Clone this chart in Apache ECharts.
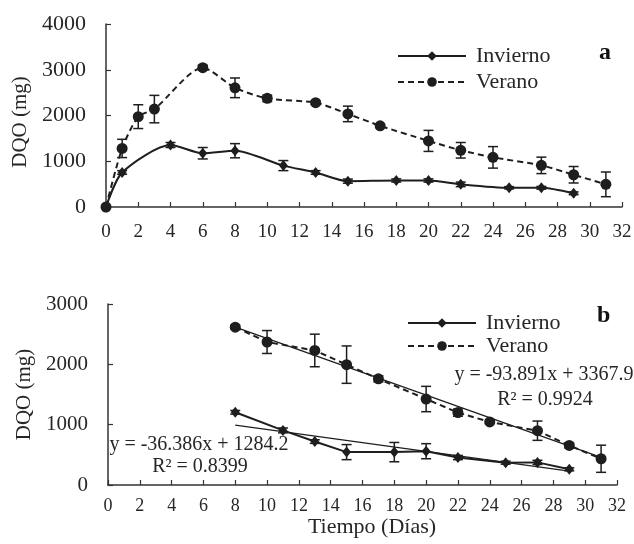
<!DOCTYPE html>
<html><head><meta charset="utf-8">
<script src="https://cdn.jsdelivr.net/npm/echarts@6/dist/echarts.min.js"></script>
<style>html,body{margin:0;padding:0;background:#fff}#c{width:634px;height:544px}</style>
</head><body><div id="c"></div>
<script>
// ---- Data ----
const seriesNames = ['Invierno', 'Verano'];
// Panel a
const invTopX = [0, 1, 4, 6, 8, 11, 13, 15, 18, 20, 22, 25, 27, 29];
const invTopY = [0, 755, 1355, 1175, 1230, 905, 755, 565, 580, 580, 495, 420, 420, 300];
const invTopErr = [0, 40, 55, 125, 155, 110, 40, 45, 35, 35, 50, 25, 30, 30];
const verTopX = [0, 1, 2, 3, 6, 8, 10, 13, 15, 17, 20, 22, 24, 27, 29, 31];
const verTopY = [0, 1280, 1975, 2140, 3045, 2605, 2375, 2280, 2035, 1775, 1445, 1240, 1085, 910, 705, 495];
const verTopErr = [0, 200, 260, 300, 55, 215, 70, 40, 170, 40, 230, 170, 235, 180, 180, 270];
// Panel b
const invBotX = [8, 11, 13, 15, 18, 20, 22, 25, 27, 29];
const invBotY = [1205, 905, 720, 545, 545, 560, 455, 370, 375, 260];
const invBotErr = [30, 40, 30, 125, 160, 125, 35, 25, 35, 25];
const verBotX = [8, 10, 13, 15, 17, 20, 22, 24, 27, 29, 31];
const verBotY = [2615, 2370, 2230, 1995, 1760, 1425, 1200, 1045, 900, 655, 435];
const verBotErr = [30, 190, 270, 310, 50, 210, 60, 25, 160, 40, 225];
// Linear trend lines (endpoints of the fitted lines shown in panel b)
const trendInvX = [8, 29];
const trendInvY = [993, 229];
const trendVerX = [8, 31];
const trendVerY = [2617, 458];
const eqInv = ['y = -36.386x + 1284.2', 'R² = 0.8399'];
const eqVer = ['y = -93.891x + 3367.9', 'R² = 0.9924'];
const panelLabels = ['a', 'b'];
const yTopMax = 4000, yBotMax = 3000, xMax = 32;

// ---- Helpers ----
const zip = (xs, ys) => xs.map((x, i) => [x, ys[i]]);
const zip3 = (xs, ys, es) => xs.map((x, i) => [x, ys[i], es[i]]);
const FONT = 'Liberation Serif';
const INK = '#1e1e1e';
const TXT = '#262626';

function errRender(params, api) {
  const x = api.value(0), y = api.value(1), e = api.value(2);
  if (!e) return null;
  const hi = api.coord([x, y + e]), lo = api.coord([x, y - e]);
  const w = 5;
  const style = { stroke: INK, lineWidth: 1.5, fill: null };
  return {
    type: 'group', children: [
      { type: 'line', shape: { x1: hi[0], y1: hi[1], x2: lo[0], y2: lo[1] }, style },
      { type: 'line', shape: { x1: hi[0] - w, y1: hi[1], x2: hi[0] + w, y2: hi[1] }, style },
      { type: 'line', shape: { x1: lo[0] - w, y1: lo[1], x2: lo[0] + w, y2: lo[1] }, style }
    ]
  };
}

function xAx(gi, fs, margin, name) {
  const o = {
    gridIndex: gi, type: 'value', min: 0, max: xMax, interval: 2,
    axisLine: { show: true, onZero: false, lineStyle: { color: '#333', width: 1.5 } },
    axisTick: { show: true, inside: true, length: 5, lineStyle: { color: '#333', width: 1.2 } },
    axisLabel: { fontFamily: FONT, fontSize: fs, color: TXT, margin: margin, formatter: v => String(v) },
    splitLine: { show: false }
  };
  if (name) {
    o.name = name; o.nameLocation = 'middle'; o.nameGap = 28;
    o.nameTextStyle = { fontFamily: FONT, fontSize: 22, color: TXT, padding: [0, 0, 0, 19] };
  }
  return o;
}
function yAx(gi, max, gap, pad, fs) {
  return {
    gridIndex: gi, type: 'value', min: 0, max: max, interval: 1000,
    name: 'DQO (mg)', nameLocation: 'middle', nameGap: gap,
    nameTextStyle: { fontFamily: FONT, fontSize: 21, color: TXT, padding: pad },
    axisLine: { show: true, lineStyle: { color: '#333', width: 1.5 } },
    axisTick: { show: true, inside: true, length: 5, lineStyle: { color: '#333', width: 1.2 } },
    axisLabel: { fontFamily: FONT, fontSize: fs, color: TXT, margin: 20, formatter: v => String(v) },
    splitLine: { show: false }
  };
}

const invLine = (gi, data, smooth) => ({
  name: seriesNames[0], type: 'line', xAxisIndex: gi, yAxisIndex: gi, data: data,
  smooth: smooth, symbol: 'diamond', symbolSize: [9, 11],
  lineStyle: { color: INK, width: 2, type: 'solid' }, itemStyle: { color: INK }, z: 3
});
const verLine = (gi, data, smooth) => ({
  name: seriesNames[1], type: 'line', xAxisIndex: gi, yAxisIndex: gi, data: data,
  smooth: smooth, symbol: 'circle', symbolSize: 11,
  lineStyle: { color: INK, width: 2, type: [6, 4] }, itemStyle: { color: INK }, z: 3
});
const errSeries = (gi, nm, data) => ({
  name: nm, type: 'custom', xAxisIndex: gi, yAxisIndex: gi, data: data,
  renderItem: errRender, encode: { x: 0, y: 1 }, z: 2, silent: true
});
const trend = (nm, data) => ({
  name: nm, type: 'line', xAxisIndex: 1, yAxisIndex: 1, data: data, symbol: 'none',
  lineStyle: { color: INK, width: 1.3 }, z: 4, silent: true
});

const legendCommon = {
  data: seriesNames, orient: 'vertical', itemWidth: 68, itemHeight: 12,
  selectedMode: false,
  textStyle: { fontFamily: FONT, fontSize: 22, color: TXT, padding: [0, 0, 0, 5] }
};

const chart = echarts.init(document.getElementById('c'), null, { renderer: 'canvas' });
chart.setOption({
  animation: false,
  backgroundColor: '#fff',
  grid: [
    { left: 106, top: 24, width: 516, height: 183, outerBoundsMode: 'none', containLabel: false },
    { left: 108, top: 304, width: 509, height: 181, outerBoundsMode: 'none', containLabel: false }
  ],
  xAxis: [xAx(0, 19, 16, null), xAx(1, 18, 12, 'Tiempo (Días)')],
  yAxis: [yAx(0, yTopMax, 68, [0, 13, 0, 0], 22), yAx(1, yBotMax, 64, [0, 0, 0, 0], 21)],
  legend: [
    Object.assign({}, legendCommon, { left: 392, top: 40, itemGap: 4 }),
    Object.assign({}, legendCommon, { left: 402, top: 307, itemGap: 1 })
  ],
  graphic: [
    { type: 'text', left: 599, top: 41, style: { text: panelLabels[0], font: 'bold 24px "Liberation Serif"', fill: '#111' } },
    { type: 'text', left: 597, top: 304, style: { text: panelLabels[1], font: 'bold 24px "Liberation Serif"', fill: '#111' } },
    { type: 'text', x: 544, y: 375, style: { text: eqVer[0], font: '20px "Liberation Serif"', fill: TXT, align: 'center', verticalAlign: 'middle' } },
    { type: 'text', x: 545, y: 400, style: { text: eqVer[1], font: '20px "Liberation Serif"', fill: TXT, align: 'center', verticalAlign: 'middle' } },
    { type: 'text', x: 199, y: 445, style: { text: eqInv[0], font: '20px "Liberation Serif"', fill: TXT, align: 'center', verticalAlign: 'middle' } },
    { type: 'text', x: 200, y: 467, style: { text: eqInv[1], font: '20px "Liberation Serif"', fill: TXT, align: 'center', verticalAlign: 'middle' } }
  ],
  series: [
    errSeries(0, 'errInvTop', zip3(invTopX, invTopY, invTopErr)),
    errSeries(0, 'errVerTop', zip3(verTopX, verTopY, verTopErr)),
    invLine(0, zip(invTopX, invTopY), 0.25),
    verLine(0, zip(verTopX, verTopY), 0.25),
    errSeries(1, 'errInvBot', zip3(invBotX, invBotY, invBotErr)),
    errSeries(1, 'errVerBot', zip3(verBotX, verBotY, verBotErr)),
    invLine(1, zip(invBotX, invBotY), false),
    verLine(1, zip(verBotX, verBotY), false),
    trend('trendInv', zip(trendInvX, trendInvY)),
    trend('trendVer', zip(trendVerX, trendVerY))
  ]
});
</script>
</body></html>
